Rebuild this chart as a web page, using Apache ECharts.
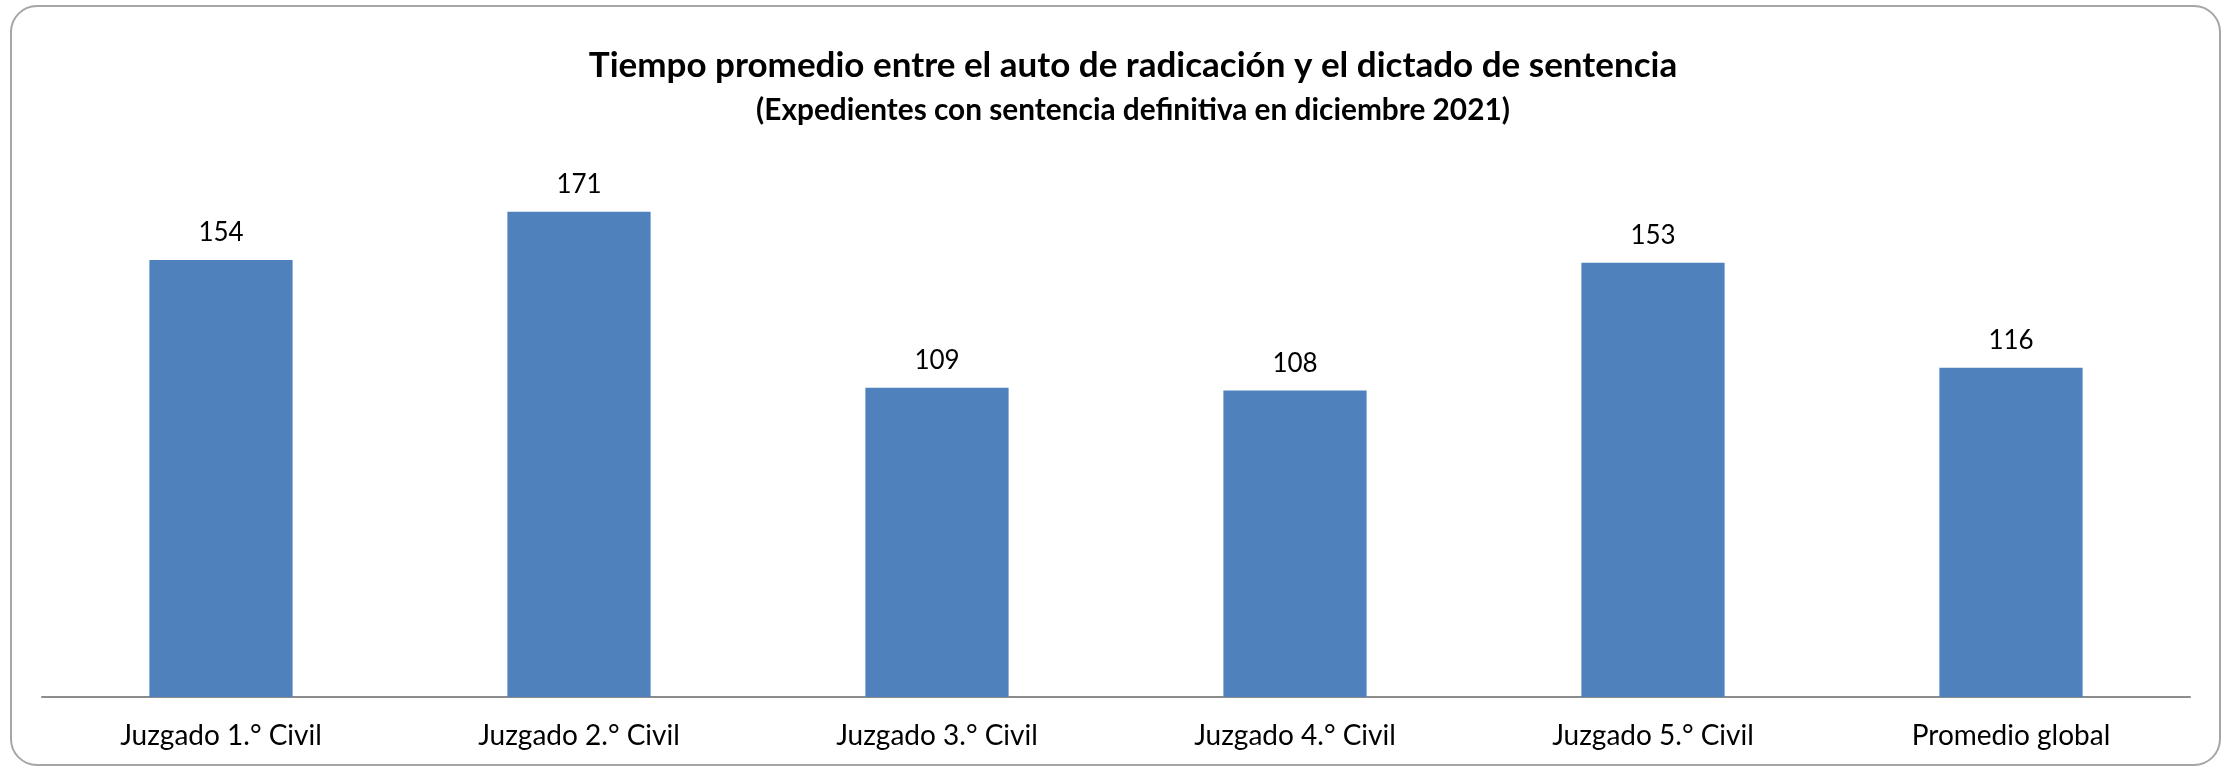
<!DOCTYPE html>
<html>
<head>
<meta charset="utf-8">
<script src="https://cdn.jsdelivr.net/npm/echarts@6/dist/echarts.min.js"></script>
<style>
  html, body { margin: 0; padding: 0; background: #ffffff; }
  #chart { width: 2226px; height: 767px; }
</style>
</head>
<body>
<div id="chart"></div>
<script>
// datos
var categories = ['Juzgado 1.° Civil', 'Juzgado 2.° Civil', 'Juzgado 3.° Civil', 'Juzgado 4.° Civil', 'Juzgado 5.° Civil', 'Promedio global'];
var dias = [154, 171, 109, 108, 153, 116];
var titulo = 'Tiempo promedio entre el auto de radicación y el dictado de sentencia';
var subtitulo = '(Expedientes con sentencia definitiva en diciembre 2021)';

var chart = echarts.init(document.getElementById('chart'));

var option = {
  backgroundColor: '#ffffff',
  animation: false,
  textStyle: { fontFamily: 'Lato' },
  graphic: [
    {
      type: 'rect',
      shape: { x: 11, y: 6, width: 2209, height: 759, r: 26 },
      style: { fill: 'none', stroke: '#a6a6a6', lineWidth: 2 },
      silent: true
    },
    // el título va algo a la derecha del centro, como en el original
    {
      type: 'text',
      x: 1133,
      y: 66,
      style: {
        text: titulo,
        textAlign: 'center',
        textVerticalAlign: 'middle',
        fill: '#000000',
        font: 'bold 35px Lato'
      }
    },
    {
      type: 'text',
      x: 1133,
      y: 110,
      style: {
        text: subtitulo,
        textAlign: 'center',
        textVerticalAlign: 'middle',
        fill: '#000000',
        font: 'bold 29.8px Lato'
      }
    }
  ],
  grid: { left: 42, right: 36, top: 129.5, bottom: 70, containLabel: false },
  xAxis: {
    type: 'category',
    data: categories,
    axisLine: { lineStyle: { color: '#8c8c8c', width: 2 } },
    axisTick: { show: false },
    axisLabel: { color: '#000000', fontSize: 28, fontFamily: 'Lato', margin: 25, interval: 0 }
  },
  yAxis: {
    type: 'value',
    min: 0,
    max: 200,
    show: false,
    splitLine: { show: false }
  },
  series: [{
    type: 'bar',
    data: dias,
    barWidth: '40%',
    itemStyle: { color: '#4f81bd' },
    label: {
      show: true,
      position: 'top',
      distance: 14,
      color: '#000000',
      fontSize: 26,
      fontFamily: 'Lato'
    }
  }]
};

chart.setOption(option);
</script>
</body>
</html>
